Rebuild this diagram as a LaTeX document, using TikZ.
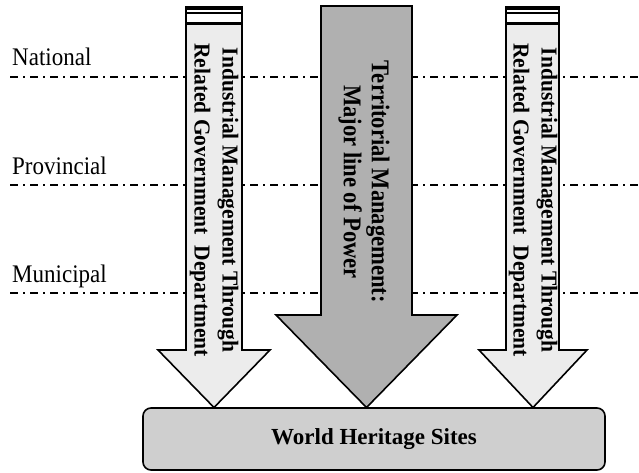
\documentclass[tikz,border=0pt]{standalone}
\usepackage{fontspec}
\setmainfont{Liberation Serif}
\begin{document}
\begin{tikzpicture}[x=1pt,y=-1pt,
  level/.style={line width=2pt, dash pattern=on 8pt off 5pt on 2pt off 5pt},
  lvllabel/.style={anchor=base west, inner sep=0pt, yscale=1.1, font=\fontsize{23}{28}\selectfont},
  sidearrow/.style={draw=black, line width=1.6pt, fill=gray!15, line join=miter},
  midarrow/.style={draw=black, line width=1.6pt, fill=black!31, line join=miter},
  sidetext/.style={rotate=-90, yscale=1.06, anchor=center, inner sep=0pt, align=center, font=\bfseries\fontsize{21.5}{26.4}\selectfont},
  midtext/.style={rotate=-90, yscale=1.13, anchor=center, inner sep=0pt, align=center, font=\bfseries\fontsize{22.6}{24.8}\selectfont},
  basebox/.style={draw=black, line width=1.6pt, fill=black!19, rounded corners=8pt}
]
\useasboundingbox (0,0) rectangle (639,472);
% level lines
\coordinate (n0) at (10,77);  \coordinate (n1) at (639,77);
\coordinate (p0) at (10,185); \coordinate (p1) at (639,185);
\coordinate (m0) at (10,293); \coordinate (m1) at (639,293);
\draw[level] (n0) -- (n1);
\draw[level] (p0) -- (p1);
\draw[level] (m0) -- (m1);
\node[lvllabel] (lnat) at (12,65) {National};
\node[lvllabel] (lprov) at (12,174) {Provincial};
\node[lvllabel] (lmun) at (12,282) {Municipal};
% base box
\node[basebox, minimum width=462pt, minimum height=62pt, font=\bfseries\fontsize{23}{28}\selectfont] (whs) at (374,439) {World Heritage Sites};
% left arrow
\draw[sidearrow] (186,24) -- (242,24) -- (242,350) -- (270,350) -- (214,407.5) -- (158,350) -- (186,350) -- cycle;
\fill[black] (186,6) rectangle (242,10);
\draw[line width=1.4pt] (186,6) -- (186,24) (242,6) -- (242,24);
\draw[line width=1.4pt] (186,13) -- (242,13) (186,22.5) -- (242,22.5);
\node[sidetext] (ltext) at (214,200) {Industrial Management Through\\Related Government\ \ Department};
% right arrow
\draw[sidearrow] (506,24) -- (559,24) -- (559,350) -- (587,350) -- (533,407.5) -- (479,350) -- (506,350) -- cycle;
\fill[black] (506,6) rectangle (559,10);
\draw[line width=1.4pt] (506,6) -- (506,24) (559,6) -- (559,24);
\draw[line width=1.4pt] (506,13) -- (559,13) (506,22.5) -- (559,22.5);
\node[sidetext] (rtext) at (533,200) {Industrial Management Through\\Related Government\ \ Department};
% middle arrow
\draw[midarrow] (321,6) -- (412,6) -- (412,315) -- (457,315) -- (366.5,407.5) -- (276,315) -- (321,315) -- cycle;
\node[midtext] (mtext) at (364,182) {Territorial Management:\\Major line of Power};
\end{tikzpicture}
\end{document}
